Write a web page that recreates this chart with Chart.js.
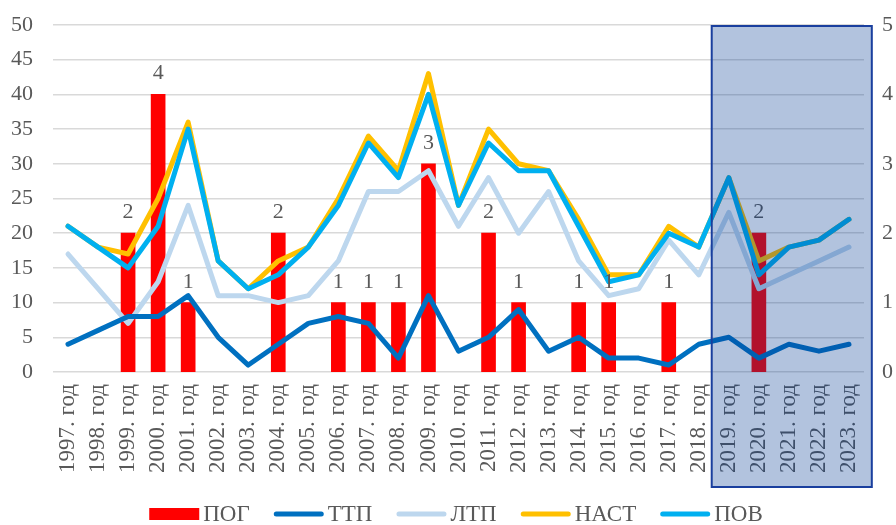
<!DOCTYPE html>
<html>
<head>
<meta charset="utf-8">
<script src="https://cdn.jsdelivr.net/npm/chart.js@4/dist/chart.umd.min.js"></script>
<style>
html,body{margin:0;padding:0;background:#fff;}
#wrap{width:896px;height:525px;position:relative;}
</style>
</head>
<body>
<div id="wrap"><canvas id="c" width="896" height="525"></canvas></div>
<script>
const categories = ["1997. год","1998. год","1999. год","2000. год","2001. год","2002. год","2003. год","2004. год","2005. год","2006. год","2007. год","2008. год","2009. год","2010. год","2011. год","2012. год","2013. год","2014. год","2015. год","2016. год","2017. год","2018. год","2019. год","2020. год","2021. год","2022. год","2023. год"];
const pog  = [null,null,2,4,1,null,null,2,null,1,1,1,3,null,2,1,null,1,1,null,1,null,null,2,null,null,null];
const ttp  = [4,6,8,8,11,5,1,4,7,8,7,2,11,3,5,9,3,5,2,2,1,4,5,2,4,3,4];
const ltp  = [17,12,7,13,24,11,11,10,11,16,26,26,29,21,28,20,26,16,11,12,19,14,23,12,14,16,18];
const nast = [21,18,17,25,36,16,12,16,18,25,34,29,43,24,35,30,29,22,14,14,21,18,28,16,18,19,22];
const pov  = [21,18,15,21,35,16,12,14,18,24,33,28,40,24,33,29,29,21,13,14,20,18,28,14,18,19,22];
const leftTicks = [0,5,10,15,20,25,30,35,40,45,50];
const rightTicks = [0,1,2,3,4,5];
const highlightFrom = "2019. год";
const highlightTo = "2023. год";

const FONT = "'Liberation Serif', 'Times New Roman', serif";
const GREY = '#595959';

const barLabels = {
  id: 'barLabels',
  afterDatasetsDraw(chart) {
    const meta = chart.getDatasetMeta(0);
    const ctx = chart.ctx;
    ctx.save();
    ctx.font = '22px ' + FONT;
    ctx.fillStyle = GREY;
    ctx.textAlign = 'center';
    ctx.textBaseline = 'alphabetic';
    meta.data.forEach((el, i) => {
      const v = pog[i];
      if (v === null || v === undefined) return;
      ctx.fillText(String(v), el.x, el.y - 15);
    });
    ctx.restore();
  }
};

const customLegend = {
  id: 'customLegend',
  afterDraw(chart) {
    const ctx = chart.ctx;
    ctx.save();
    ctx.font = '23px ' + FONT;
    const box = 50, gapText = 4, gapItem = 24;
    const items = chart.data.datasets.map(ds => ({
      text: ds.label, isBar: ds.type === 'bar',
      color: ds.type === 'bar' ? ds.backgroundColor : ds.borderColor,
      w: ctx.measureText(ds.label).width
    }));
    let total = 0;
    items.forEach((it, i) => { total += box + gapText + it.w + (i ? gapItem : 0); });
    let x = (chart.width - total) / 2 + 8;
    const cy = chart.height - 11;
    ctx.textBaseline = 'middle';
    ctx.textAlign = 'left';
    items.forEach(it => {
      if (it.isBar) {
        ctx.fillStyle = it.color;
        ctx.fillRect(x, cy - 6, box, 12);
      } else {
        ctx.strokeStyle = it.color;
        ctx.lineWidth = 5;
        ctx.lineCap = 'round';
        ctx.beginPath();
        ctx.moveTo(x + 2.5, cy);
        ctx.lineTo(x + box - 2.5, cy);
        ctx.stroke();
      }
      ctx.fillStyle = GREY;
      ctx.fillText(it.text, x + box + gapText, cy + 1);
      x += box + gapText + it.w + gapItem;
    });
    ctx.restore();
  }
};

const highlight = {
  id: 'highlight',
  afterDraw(chart) {
    const xs = chart.scales.x;
    const ys = chart.scales.y;
    const i0 = categories.indexOf(highlightFrom);
    const i1 = categories.indexOf(highlightTo);
    const step = xs.getPixelForValue(1) - xs.getPixelForValue(0);
    const left = xs.getPixelForValue(i0) - step * 0.57;
    const right = xs.getPixelForValue(i1) + step * 0.76;
    const top = ys.getPixelForValue(50) + 1;
    const bottom = xs.bottom;
    const ctx = chart.ctx;
    ctx.save();
    ctx.fillStyle = 'rgba(0,55,145,0.30)';
    ctx.fillRect(left, top, right - left, bottom - top);
    ctx.strokeStyle = '#1a3f9e';
    ctx.lineWidth = 2;
    ctx.strokeRect(left, top, right - left, bottom - top);
    ctx.restore();
  }
};

function lineDs(label, data, color, order) {
  return {
    type: 'line', label, data, borderColor: color, backgroundColor: color,
    borderWidth: 5, pointRadius: 0, pointHoverRadius: 0, tension: 0,
    borderJoinStyle: 'round', borderCapStyle: 'round', yAxisID: 'y', order
  };
}

new Chart(document.getElementById('c'), {
  type: 'bar',
  data: {
    labels: categories,
    datasets: [
      { type: 'bar', label: 'ПОГ', data: pog, backgroundColor: '#ff0000', borderWidth: 0, barThickness: 14, yAxisID: 'y1', order: 6 },
      lineDs('ТТП', ttp, '#0070c0', 3),
      lineDs('ЛТП', ltp, '#bdd7ee', 4),
      lineDs('НАСТ', nast, '#ffc000', 2),
      lineDs('ПОВ', pov, '#00b0f0', 1)
    ]
  },
  options: {
    responsive: false,
    animation: false,
    devicePixelRatio: 1,
    layout: { padding: { left: 11, right: 0, top: 25, bottom: 38 } },
    plugins: {
      tooltip: { enabled: false },
      legend: { display: false }
    },
    scales: {
      x: {
        offset: true,
        grid: { display: false, drawTicks: false },
        border: { display: false },
        ticks: { autoSkip: false, minRotation: 90, maxRotation: 90, padding: 12, color: GREY, font: { family: FONT, size: 23 } },
        afterFit(s) { s.height = 115; s.paddingLeft = 0; s.paddingRight = 0; }
      },
      y: {
        position: 'left', min: 0, max: 50,
        afterBuildTicks(s) { s.ticks = leftTicks.map(v => ({ value: v })); },
        grid: { color: '#d9d9d9', lineWidth: 1.5, drawTicks: false },
        border: { display: false },
        ticks: { padding: 20, color: GREY, font: { family: FONT, size: 22 } },
        afterFit(s) { s.width = 42; s.paddingTop = 0; s.paddingBottom = 0; }
      },
      y1: {
        position: 'right', min: 0, max: 5,
        afterBuildTicks(s) { s.ticks = rightTicks.map(v => ({ value: v })); },
        grid: { display: false, drawTicks: false },
        border: { display: false },
        ticks: { padding: 18, color: GREY, font: { family: FONT, size: 22 } },
        afterFit(s) { s.width = 32; s.paddingTop = 0; s.paddingBottom = 0; }
      }
    }
  },
  plugins: [barLabels, customLegend, highlight]
});
</script>
</body>
</html>
